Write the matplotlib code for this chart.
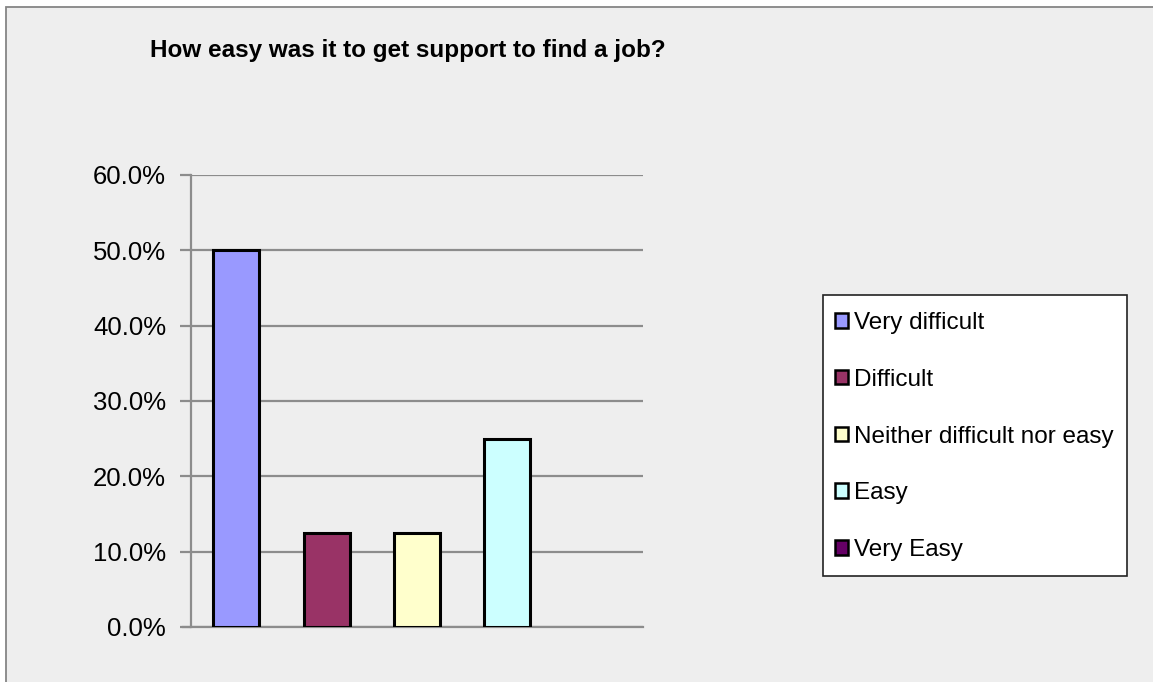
import matplotlib
matplotlib.use('Agg')
import matplotlib.pyplot as plt
from matplotlib.patches import Rectangle, Patch

plt.rcParams['font.family'] = ['Liberation Sans', 'DejaVu Sans']

title = 'How easy was it to get support to find a job?'
categories = ['Very difficult', 'Difficult', 'Neither difficult nor easy', 'Easy', 'Very Easy']
shares = [0.50, 0.125, 0.125, 0.25, 0.0]
colors = ['#9999ff', '#993366', '#ffffcc', '#ccffff', '#660066']
yticks = [0.0, 0.1, 0.2, 0.3, 0.4, 0.5, 0.6]

W, H = 1153, 682
fig = plt.figure(figsize=(W / 100, H / 100), dpi=100)
fig.patch.set_facecolor('white')

# grey chart area with a thin frame
fig.patches.append(Rectangle((5.5 / W, -0.1), 1.2, 1.1 - 6.5 / H, transform=fig.transFigure,
                             fc='#eeeeee', ec='#858585', lw=1.3, zorder=-5))
# legend box
fig.patches.append(Rectangle((823 / W, 1 - 576 / H), (1127 - 823) / W, (576 - 295) / H,
                             transform=fig.transFigure, fc='white', ec='#222222', lw=1.2, zorder=-4))

ax = fig.add_axes([191 / W, 1 - 627 / H, (643 - 191) / W, (627 - 175) / H])
ax.set_facecolor('none')

for i, (v, c) in enumerate(zip(shares, colors)):
    if v > 0:
        ax.bar(i, v, width=0.51, color=c, edgecolor='black', linewidth=2.2, zorder=3)

ax.set_xlim(-0.5, len(categories) - 0.5)
ax.set_ylim(0, 0.6)
ax.set_yticks(yticks)
ax.set_yticklabels([f'{t * 100:.1f}%' for t in yticks], fontsize=18.5)
ax.set_xticks([])
ax.yaxis.grid(True, color='#8c8c8c', linewidth=1.6, zorder=1)
ax.set_axisbelow(True)
for s in ['top', 'right', 'bottom']:
    ax.spines[s].set_visible(False)
ax.spines['left'].set_color('#8c8c8c')
ax.spines['left'].set_linewidth(1.6)
ax.tick_params(axis='y', length=8, width=1.6, color='#8c8c8c', pad=10)
# baseline runs under the tick marks too
ax.axhline(0, xmin=-8 / 452, xmax=1, color='#8c8c8c', lw=1.6, clip_on=False, zorder=2)

fig.text(150 / W, 1 - 50 / H, title, fontsize=17.5, fontweight='bold', va='center', ha='left')

handles = [Patch(facecolor=c, edgecolor='black', linewidth=1.8) for c in colors]
leg = fig.legend(handles, categories, loc='center left',
                 bbox_to_anchor=(835 / W, 1 - 436.5 / H), borderaxespad=0, borderpad=0,
                 fontsize=17.5, handlelength=0.55, handleheight=0.55, handletextpad=0.22,
                 labelspacing=1.43, frameon=False)

fig.savefig('out.png', dpi=100)
